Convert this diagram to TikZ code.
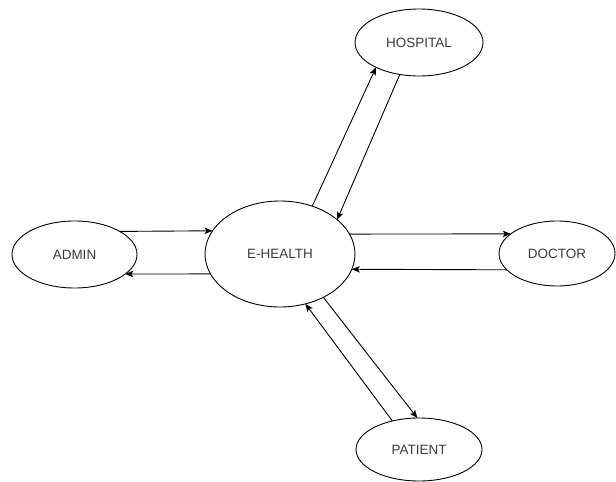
\documentclass[tikz,border=0pt]{standalone}
\usepackage{fontspec}
\setmainfont{Liberation Sans}
\usetikzlibrary{arrows.meta,shapes.geometric}
\definecolor{txt}{HTML}{3C3C3C}
\begin{document}
\begin{tikzpicture}[x=1pt,y=-1pt,
  ent/.style={draw=black, ellipse, line width=0.9pt, inner sep=0pt, outer sep=0pt,
    text=txt, font=\fontsize{13.5}{16}\selectfont},
  link/.style={draw=black, line width=0.9pt, -{Stealth[length=8pt,width=6.5pt,inset=2pt]}}]
\useasboundingbox (0,0) rectangle (616,482);
\fill[white] (0,0) rectangle (616,482);
\node[ent, minimum width=150pt, minimum height=106pt] (eh) at (280,254) {E-HEALTH};
\node[ent, minimum width=128pt, minimum height=67pt] (hosp) at (419,42.5) {HOSPITAL};
\node[ent, minimum width=125pt, minimum height=67pt] (adm) at (74.5,254.5) {ADMIN};
\node[ent, minimum width=116pt, minimum height=65pt] (doc) at (557,253.5) {DOCTOR};
\node[ent, minimum width=126pt, minimum height=63pt] (pat) at (419,449.5) {PATIENT};
% hospital
\draw[link] (eh.56) -- (hosp.210.1);
\draw[link] (hosp.239.2) -- (eh.31.4);
% doctor
\draw[link] (eh.16.05) -- (doc.157.2);
\draw[link] (doc.198.3) -- (eh.-12.6);
% admin
\draw[link] (adm.27.8) -- (eh.161.2);
\draw[link] (eh.196.05) -- (adm.-21.0);
% patient
\draw[link] (pat.133.4) -- (eh.-63.9);
\draw[link] (eh.-45.6) -- (pat.93.6);
\end{tikzpicture}
\end{document}
